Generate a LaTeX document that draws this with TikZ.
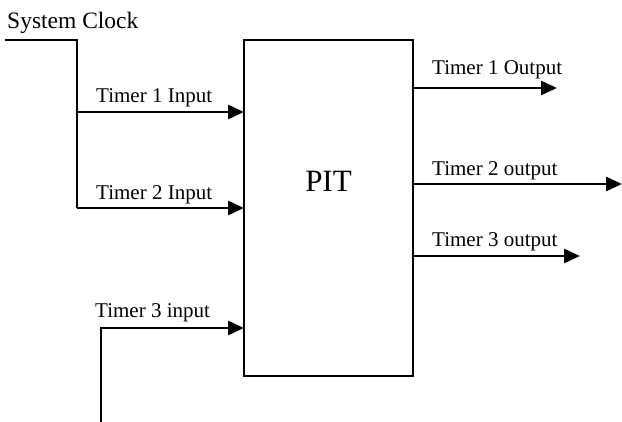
\documentclass[tikz,border=0pt]{standalone}
\usepackage{fontspec}
\setmainfont{Liberation Serif}
\usepackage{tikz}
\usetikzlibrary{arrows.meta,positioning}

\begin{document}
\begin{tikzpicture}[x=1pt, y=-1pt,
    wire/.style={line width=2.8pt},
    sig/.style={wire, -{Triangle[length=16pt,width=14pt]}},
    tag/.style={anchor=base west, inner sep=0pt, font=\fontsize{21}{25}\selectfont}]
  \useasboundingbox (0,0) rectangle (622,422);
  \node[draw, line width=2.8pt, minimum width=169pt, minimum height=336pt, inner sep=0pt, outer sep=0pt] (pit) at (328.5,208) {};
  \node[font=\fontsize{31}{36}\selectfont, inner sep=0pt] (pitname) at ([yshift=27pt]pit.center) {PIT};
  \coordinate (clk) at (5,40);
  \coordinate (in1) at (77,112);
  \coordinate (in2) at (77,208);
  \coordinate (in3) at (101,422);
  \coordinate (out1) at (557,88);
  \coordinate (out2) at (622,184);
  \coordinate (out3) at (580,256);
  \draw[wire] (clk) -| (in2);
  \draw[sig] (in1) -- (in1 -| pit.west);
  \draw[sig] (in2) -- (in2 -| pit.west);
  \draw[sig] (in3) |- (pit.west |- 0,328);
  \draw[sig] (pit.east |- out1) -- (out1);
  \draw[sig] (pit.east |- out2) -- (out2);
  \draw[sig] (pit.east |- out3) -- (out3);
  \node[tag, font=\fontsize{23.5}{28}\selectfont] (clktext) at (7,29) {System Clock};
  \node[tag] (in1text) at (96,103) {Timer 1 Input};
  \node[tag] (in2text) at (96,200) {Timer 2 Input};
  \node[tag] (in3text) at (95,318) {Timer 3 input};
  \node[tag] (out1text) at (432,75) {Timer 1 Output};
  \node[tag] (out2text) at (432,176) {Timer 2 output};
  \node[tag] (out3text) at (432,247) {Timer 3 output};
\end{tikzpicture}
\end{document}
